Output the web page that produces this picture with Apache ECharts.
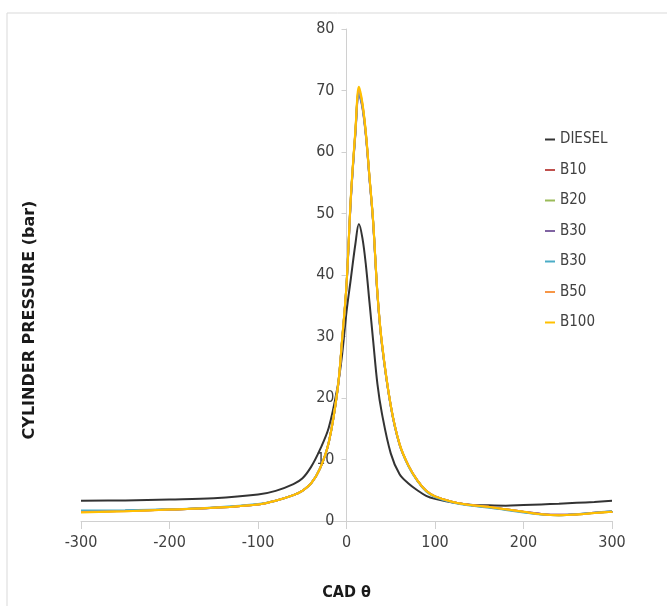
<!DOCTYPE html>
<html>
<head>
<meta charset="utf-8">
<script src="https://cdn.jsdelivr.net/npm/echarts@6/dist/echarts.min.js"></script>
<style>
  html, body { margin: 0; padding: 0; background: #fff; }
  #chart { width: 667px; height: 606px; }
</style>
</head>
<body>
<div id="chart"></div>
<script>
// crank angle (deg) and cylinder pressure (bar)
const cad = [-300, -250, -200, -150, -100, -80, -60, -50, -40, -30, -20, -10, -5, 0, 5, 10, 14, 18, 22, 26, 30, 35, 40, 50, 60, 70, 80, 90, 100, 120, 140, 160, 180, 200, 220, 240, 260, 280, 300]

const diesel = [3.3, 3.35, 3.5, 3.7, 4.3, 4.9, 6.0, 6.9, 8.8, 11.6, 15.2, 21.9, 27.0, 34.0, 39.5, 45.0, 48.3, 46.0, 41.5, 35.5, 29.5, 22.2, 17.5, 11.0, 7.6, 6.1, 5.0, 4.1, 3.6, 3.0, 2.65, 2.55, 2.5, 2.6, 2.7, 2.8, 2.95, 3.1, 3.3]
const b10 = [1.5, 1.65, 1.85, 2.15, 2.7, 3.3, 4.2, 4.9, 6.1, 8.5, 12.8, 21.4, 29.3, 38.3, 52.6, 63.0, 69.6, 67.4, 62.6, 55.7, 48.8, 36.8, 28.8, 18.7, 12.4, 9.0, 6.6, 4.9, 4.0, 3.1, 2.6, 2.3, 1.9, 1.5, 1.15, 1.0, 1.1, 1.35, 1.55]
const b20 = [1.5, 1.65, 1.85, 2.15, 2.7, 3.3, 4.2, 4.9, 6.1, 8.5, 12.8, 21.5, 29.4, 38.4, 52.8, 63.2, 69.8, 67.6, 62.8, 55.8, 48.9, 36.9, 28.9, 18.8, 12.5, 9.0, 6.6, 4.9, 4.0, 3.1, 2.55, 2.25, 1.85, 1.45, 1.1, 0.95, 1.05, 1.3, 1.5]
const b30a = [1.5, 1.65, 1.85, 2.15, 2.7, 3.3, 4.2, 4.9, 6.1, 8.5, 12.8, 21.4, 29.2, 38.2, 52.5, 62.8, 69.4, 67.2, 62.5, 55.6, 48.7, 36.7, 28.7, 18.7, 12.4, 9.0, 6.6, 4.9, 4.0, 3.1, 2.6, 2.3, 1.9, 1.5, 1.15, 1.0, 1.1, 1.35, 1.55]
const b30b = [1.7, 1.75, 1.9, 2.2, 2.75, 3.3, 4.2, 4.9, 6.1, 8.5, 12.8, 21.5, 29.3, 38.3, 52.7, 63.1, 69.7, 67.5, 62.7, 55.8, 48.9, 36.9, 28.8, 18.7, 12.4, 8.9, 6.5, 4.8, 3.9, 3.0, 2.5, 2.2, 1.8, 1.4, 1.05, 0.95, 1.1, 1.35, 1.6]
const b50 = [1.45, 1.6, 1.85, 2.15, 2.7, 3.3, 4.2, 4.9, 6.1, 8.5, 12.8, 21.5, 29.4, 38.4, 52.8, 63.3, 70.1, 67.8, 62.9, 55.9, 49.0, 37.0, 29.0, 18.8, 12.5, 9.0, 6.6, 4.9, 4.0, 3.1, 2.6, 2.3, 1.9, 1.5, 1.1, 0.95, 1.05, 1.3, 1.5]
const b100 = [1.4, 1.6, 1.85, 2.15, 2.7, 3.3, 4.2, 4.9, 6.1, 8.5, 12.8, 21.5, 29.5, 38.5, 53.0, 63.5, 70.6, 68.0, 63.0, 56.0, 49.0, 37.0, 29.0, 18.8, 12.5, 9.0, 6.6, 4.9, 4.0, 3.1, 2.6, 2.3, 1.9, 1.5, 1.1, 0.95, 1.05, 1.3, 1.5]

// second B30 gets a trailing space so the legend keeps both entries
const seriesNames = ['DIESEL', 'B10', 'B20', 'B30', 'B30 ', 'B50', 'B100']
const seriesData = [diesel, b10, b20, b30a, b30b, b50, b100]
const seriesColors = ['#333333', '#c0504d', '#9bbb59', '#8064a2', '#4bacc6', '#f79646', '#ffc000']

const xTicks = [-300, 300, 100]
const yTicks = [0, 80, 10]

const tickFont = '"Liberation Sans Narrow", "DejaVu Sans Condensed", sans-serif'

const chart = echarts.init(document.getElementById('chart'))

const series = seriesNames.map((name, i) => ({
  type: 'line',
  name,
  data: cad.map((x, j) => [x, seriesData[i][j]]),
  smooth: 0.35,
  symbol: 'none',
  lineStyle: { color: seriesColors[i], width: 2 },
  itemStyle: { color: seriesColors[i] },
  z: 2 + i,
}))

const option = {
  animation: false,
  backgroundColor: '#fff',
  graphic: [
    {
      type: 'rect',
      shape: { x: 7, y: 13, width: 700, height: 700 },
      style: { fill: 'none', stroke: '#d9d9d9', lineWidth: 1 },
      silent: true,
    },
    {
      type: 'text',
      x: 30,
      y: 320,
      rotation: Math.PI / 2,
      style: {
        text: 'CYLINDER PRESSURE (bar)',
        font: 'bold 16px "DejaVu Sans", sans-serif',
        fill: '#1a1a1a',
        align: 'center',
        verticalAlign: 'middle',
      },
    },
  ],
  grid: { left: 81, right: 55, top: 29, bottom: 82 },
  legend: {
    orient: 'vertical',
    left: 540,
    top: 127,
    icon: 'rect',
    itemWidth: 10,
    itemHeight: 2,
    itemGap: 15.5,
    data: seriesNames,
    textStyle: { fontFamily: tickFont, fontSize: 15, color: '#404040' },
  },
  xAxis: {
    type: 'value',
    min: xTicks[0],
    max: xTicks[1],
    interval: xTicks[2],
    name: 'CAD θ',
    nameLocation: 'middle',
    nameGap: 64,
    nameTextStyle: { fontFamily: tickFont, fontWeight: 'bold', fontSize: 16, color: '#1a1a1a' },
    axisLine: { lineStyle: { color: '#d0d0d0' } },
    axisTick: { show: true, inside: false, length: 8, lineStyle: { color: '#d0d0d0' } },
    axisLabel: { fontFamily: tickFont, fontSize: 16, color: '#404040', margin: 14 },
    splitLine: { show: false },
  },
  yAxis: {
    type: 'value',
    min: yTicks[0],
    max: yTicks[1],
    interval: yTicks[2],
    // shift the whole axis (line, ticks, labels) to CAD = 0
    offset: -265.5,
    axisLine: { show: true, onZero: false, lineStyle: { color: '#d0d0d0' } },
    axisTick: { show: true, inside: false, length: 5, lineStyle: { color: '#d0d0d0' } },
    axisLabel: { fontFamily: tickFont, fontSize: 16, color: '#404040', margin: 12 },
    splitLine: { show: false },
  },
  series,
}

chart.setOption(option)
</script>
</body>
</html>
